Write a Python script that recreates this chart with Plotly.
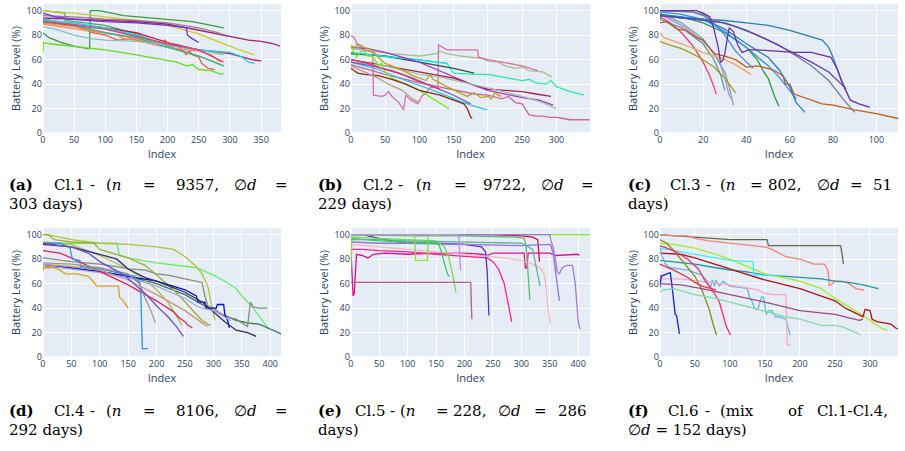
import plotly.graph_objects as go

# ---------------------------------------------------------------
# Battery-level traces per cluster: breakpoints (index, level %)
# ---------------------------------------------------------------
cl1_series = [
    [(0,82),(10,78),(30,74),(50,71),(72,69),(75,69),(76,100),(90,100),(130,96),(170,94),(200,93),(240,91),(260,89),(290,86)],
    [(0,65),(1,74),(10,73),(50,71),(100,68),(150,64),(200,59),(215,58),(230,55),(240,56),(250,52),(270,51),(285,48),(290,49)],
    [(0,100),(35,98),(36,92),(100,88),(150,81),(200,71),(250,63),(290,55)],
    [(0,100),(50,98),(100,95),(150,92),(200,88),(230,84),(250,81),(280,75),(310,69),(339,64)],
    [(0,96),(50,95),(100,93),(150,92),(200,90),(250,86),(280,82),(297,79)],
    [(0,95),(100,92),(200,89),(250,85),(290,80)],
    [(0,94),(50,93),(100,92),(150,91),(200,89),(250,84),(300,79),(330,76),(350,75),(360,74),(370,73),(380,71)],
    [(0,98),(20,95),(50,93),(100,91),(150,90),(200,88),(230,86),(232,80),(240,77),(250,74)],
    [(0,91),(50,89),(100,86),(150,82),(200,74),(250,68),(300,65),(320,62),(335,60),(350,59)],
    [(0,92),(50,90),(100,86),(150,80),(200,72),(250,68),(300,66),(320,62),(330,58),(340,57)],
    [(0,90),(50,88),(80,82),(100,80),(120,76),(140,77),(160,75),(190,73),(195,76),(200,74),(210,72),(220,70),(230,64),(235,67),(240,64),(250,62),(255,57),(260,55),(265,53),(275,52)],
    [(0,90),(50,87),(100,82),(150,77),(200,72),(250,68),(285,65)],
    [(0,89),(50,85),(100,81),(120,80),(130,77),(150,76),(180,72),(200,70),(230,68),(250,67),(270,64),(285,58)],
    [(0,93),(50,88),(100,82),(150,78),(200,70),(250,63),(290,55)],
    [(0,87),(20,85),(50,80),(80,77),(100,76),(150,75),(200,72),(250,68),(290,64)],
    [(0,93),(100,86),(200,72),(250,68),(290,66)],
    [(0,91),(100,85),(200,73),(250,68),(290,58)],
]
cl1_colors = ["#3a9e3a", "#5ee01c", "#55aa55", "#c8d020", "#a07a8a", "#c4b4d4", "#a0206a",
              "#6a35e0", "#d0105a", "#00d8e0", "#f05a3a", "#f09030", "#ff8060", "#3cb48c",
              "#88c0c0", "#40c0f0", "#e0406a"]

cl2_series = [
    [(0,69),(30,67),(60,65),(100,63),(125,65),(130,67),(140,65),(160,63),(190,61),(200,59),(215,58),(225,55),(240,53),(250,54),(260,51),(280,50),(293,46)],
    [(0,65),(30,64),(60,62),(100,60),(140,57),(143,55),(150,49),(180,48),(200,48),(230,45),(250,43),(260,44),(270,41),(285,40),(292,43),(300,38),(320,34),(340,31)],
    [(0,80),(5,78),(10,72),(20,68),(32,66),(33,31),(45,30),(50,31),(55,34),(60,30),(70,25),(77,19),(80,31),(88,27),(98,24),(103,30),(110,33),(115,37),(127,38),(128,72),(140,68),(185,68),(186,62),(200,60),(220,58),(250,55),(273,51)],
    [(0,56),(50,48),(100,41),(150,35),(180,32),(200,31),(220,28),(230,30),(240,25),(250,24),(255,20),(260,15),(270,14),(280,14),(290,13),(300,13),(310,12),(320,11),(348,11)],
    [(0,65),(50,63),(100,58),(150,53),(180,49)],
    [(0,66),(50,63),(100,60),(141,57)],
    [(0,70),(25,69),(50,66),(75,62),(100,58),(125,52),(150,46),(175,40),(200,35),(225,32),(250,29),(275,27),(295,23)],
    [(0,60),(50,55),(100,50),(130,47),(150,45),(175,40),(200,36),(225,35),(250,34),(270,32),(292,30)],
    [(0,58),(50,55),(100,48),(130,46),(160,42),(200,37),(250,30),(280,25),(300,20)],
    [(0,72),(5,70),(10,73),(20,70),(30,68),(40,62),(50,57),(60,55),(80,50),(90,47),(100,45),(110,43),(115,48),(120,44),(140,38),(160,33),(170,30),(180,33),(190,29),(200,30),(205,28),(210,33),(215,31),(220,30)],
    [(0,58),(40,52),(80,43),(120,35),(160,26),(180,22),(199,19)],
    [(0,72),(3,68),(8,62),(15,67),(20,67),(25,63),(30,63),(35,60),(40,55),(45,57),(50,50),(60,45),(80,40),(100,35),(120,28),(143,20)],
    [(0,53),(10,49),(20,48),(40,47),(60,44),(80,40),(100,35),(130,31),(150,27),(165,24),(170,20),(175,13),(177,12)],
    [(0,58),(30,55),(60,51),(90,45),(120,38),(150,31),(175,24)],
    [(0,55),(20,50),(40,45),(55,40),(75,35),(90,28),(100,25)],
    [(0,60),(25,57),(50,52),(75,48),(100,42),(130,36)],
]
cl2_colors = ["#a8c088", "#22f09a", "#d870a8", "#d4609a", "#2f4f4f", "#00e8f0", "#b030d0",
              "#a8204a", "#a0c0a8", "#b0a818", "#30c0e0", "#77ee11", "#8b2a10", "#6a5acd",
              "#b8a080", "#f0305a"]

cl3_series = [
    [(0,95),(5,90),(10,82),(15,72),(20,58),(23,47),(25,38),(26,32)],
    [(0,97),(10,88),(20,75),(25,66),(28,56),(30,45),(32,31),(33,28)],
    [(0,98),(10,90),(20,77),(25,65),(30,50),(32,38),(34,23)],
    [(0,93),(10,86),(20,73),(25,60),(28,48),(30,35)],
    [(0,75),(3,73),(10,69),(15,65),(20,60),(25,54),(30,45),(33,38),(35,33)],
    [(0,82),(2,78),(10,73),(20,66),(30,60),(35,56),(42,48)],
    [(0,93),(1,97),(10,95),(20,90),(30,82),(35,76),(40,70),(45,60),(48,50),(50,45),(53,30),(55,22)],
    [(0,99),(10,97),(20,93),(30,83),(40,70),(50,55),(55,46),(60,35),(63,28)],
    [(0,96),(10,95),(20,93),(30,85),(40,73),(50,62),(55,52),(60,38),(63,25),(67,17)],
    [(0,100),(15,99),(20,96),(25,90),(30,80),(35,67),(40,58),(43,53)],
    [(0,90),(3,91),(8,85),(12,84),(17,78),(20,76),(25,65),(30,63),(35,60),(40,54),(45,55),(52,52),(56,48),(57,46),(58,40),(60,40),(62,32),(70,27),(75,24),(80,23),(90,19),(100,16),(110,12)],
    [(0,97),(10,94),(20,93),(30,92),(40,90),(50,88),(60,84),(70,79),(75,76),(78,70),(80,62),(82,52),(84,42),(86,36)],
    [(0,100),(15,99),(20,97),(25,92),(35,87),(45,80),(55,72),(62,64),(70,55),(78,43),(85,27),(90,17)],
    [(0,100),(17,100),(20,98),(23,95),(25,85),(27,70),(28,58),(29,59),(30,65),(32,86),(34,83),(36,72),(38,66),(41,68),(45,68),(55,67),(62,66),(70,66),(75,64),(79,62),(82,52),(85,38),(88,27),(92,24),(97,21)],
    [(0,96),(10,94),(20,92),(30,90),(40,84),(50,76),(60,67),(70,58),(78,50),(83,42),(85,38)],
]
cl3_colors = ["#f04070", "#c080f0", "#7aa890", "#5a9aa8", "#a0a010", "#f4a060", "#20a040",
              "#3090f0", "#2080c0", "#5080f0", "#c06018", "#2a80b0", "#708090", "#7030a0",
              "#6a3ab0"]

cl4_series = [
    [(0,93),(130,93),(135,83),(150,81),(200,77),(250,74),(270,73),(300,67),(320,62),(340,56),(350,50),(370,40),(385,30),(397,23)],
    [(0,75),(50,73),(100,70),(150,66),(200,60),(250,51),(280,43),(300,38),(320,34),(340,30),(360,28),(380,27),(400,23),(419,19)],
    [(0,81),(50,78),(100,76),(130,74),(150,72),(180,71),(200,68),(220,67),(250,64),(270,62),(280,61),(285,50),(290,42),(300,40),(320,33),(340,31),(355,26),(360,25),(365,45),(370,41),(380,40),(395,40)],
    [(0,100),(20,99),(50,96),(100,93),(150,92),(200,90),(230,88),(250,82),(270,74),(280,68),(290,58),(295,45),(300,35),(303,30)],
    [(0,100),(10,100),(20,96),(50,94),(90,93),(100,88),(150,81),(180,75),(200,67),(230,55),(250,45),(270,35),(280,30),(290,27),(295,26)],
    [(0,94),(50,92),(100,83),(150,72),(180,63),(200,55),(220,45),(240,30),(245,26)],
    [(0,75),(100,70),(150,66),(200,62),(250,55),(270,50),(273,45),(285,45),(287,40),(305,40),(307,43),(318,43),(320,35),(325,30),(328,24)],
    [(0,92),(50,90),(100,84),(130,80),(150,72),(180,65),(200,62),(250,53),(280,45),(300,37),(320,29),(340,22),(350,21),(360,20),(375,17)],
    [(0,75),(50,72),(100,69),(150,65),(200,58),(250,48),(270,42),(280,40),(300,38),(330,30)],
    [(0,87),(30,85),(50,81),(100,70),(150,59),(200,46),(230,37),(240,32),(250,29),(255,26),(263,24)],
    [(0,76),(50,74),(100,71),(150,63),(200,51),(250,38),(280,28),(290,25)],
    [(0,70),(1,73),(20,73),(30,71),(40,68),(60,68),(70,67),(80,66),(88,62),(95,58),(133,58),(135,49),(140,47),(150,40)],
    [(0,93),(30,93),(40,91),(48,89),(50,84),(52,80),(65,79),(66,74),(100,72),(140,68),(150,67),(162,66),(163,63),(170,62),(172,57),(175,7),(185,7)],
    [(0,77),(50,76),(100,73),(150,68),(170,60),(180,48),(190,38),(198,28)],
    [(0,93),(50,90),(80,85),(100,78),(140,68),(160,60),(180,52),(200,42),(220,33),(235,25),(247,17)],
]
cl4_colors = ["#66ee66", "#2a7a4a", "#8a8a78", "#b8c038", "#a0b030", "#aac040", "#0010d0",
              "#3d2868", "#b0a0f0", "#e8205a", "#c89a7a", "#e0a010", "#3090f0", "#a09890",
              "#7050c0"]

cl5_series = [
    [(0,100),(421,100)],
    [(0,100),(150,100),(250,100),(300,99),(320,98),(329,96),(331,80),(332,78)],
    [(0,88),(2,70),(4,50),(6,52),(10,84),(20,83),(30,81),(40,84),(60,85),(100,84),(150,85),(200,85),(230,84),(240,83),(250,85),(305,85),(307,73),(310,73),(312,85),(350,85),(360,83),(400,84),(402,83)],
    [(0,88),(20,88),(50,87),(100,86),(150,84),(200,82),(240,81),(250,78),(260,72),(270,60),(275,48),(280,35),(283,29)],
    [(0,100),(20,100),(40,98),(60,96),(100,93),(150,93),(200,92),(230,90),(237,86),(240,70),(243,34)],
    [(0,94),(50,93),(100,93),(200,92),(250,92),(300,91),(350,92),(352,91),(356,85),(360,70),(363,58),(367,46)],
    [(0,100),(100,100),(200,100),(350,100),(352,95),(356,90),(360,80),(363,70),(367,68),(372,73),(380,75),(390,75),(395,60),(400,30),(403,23)],
    [(0,92),(50,90),(100,88),(150,86),(200,84),(250,82),(300,79),(320,76),(335,72),(340,68),(343,60),(347,40),(351,27)],
    [(0,100),(100,99),(200,99),(290,98),(305,97),(308,92),(311,75),(313,60),(315,47)],
    [(0,98),(50,97),(100,96),(150,95),(165,90),(172,82),(178,70),(182,60),(185,53)],
    [(0,97),(50,95),(100,94),(150,93),(155,92),(160,85),(165,76),(170,68),(173,66)],
    [(0,72),(2,100),(100,100),(110,99),(113,97),(114,79),(135,79),(136,100),(160,99)],
    [(0,61),(100,61),(211,61),(212,45),(213,31)],
    [(0,100),(100,100),(190,100),(191,90),(193,71)],
    [(0,96),(50,96),(100,95),(200,94),(300,93),(320,88),(328,70),(333,58)],
]
cl5_colors = ["#88ee22", "#c01050", "#e0108a", "#ff2090", "#5030c8", "#9a70e0", "#a078e0",
              "#f4b8c0", "#60bb70", "#70dd50", "#33cc55", "#80e040", "#b06088", "#c090e0",
              "#60b890"]

cl6_series = [
    [(0,100),(50,98),(100,96),(153,96),(155,91),(200,91),(258,91),(260,85),(262,76)],
    [(0,100),(20,99),(40,99),(50,97),(70,95),(100,93),(120,92),(150,90),(160,88),(170,85),(180,82),(200,80),(210,78),(220,76),(235,76),(240,71),(242,58),(250,62),(260,62),(270,60),(280,56),(290,55),(292,54)],
    [(0,79),(20,78),(50,76),(80,73),(100,71),(120,70),(150,67),(180,66),(200,65),(230,64),(250,62),(270,61),(290,59),(312,56)],
    [(0,93),(20,92),(50,89),(80,84),(100,80),(130,73),(150,68),(200,62),(230,56),(250,48),(270,41),(290,34),(310,26),(318,23),(325,22)],
    [(0,85),(30,84),(50,81),(100,72),(150,63),(200,56),(230,50),(250,46),(265,40),(280,36),(290,33),(293,39),(300,38),(303,31),(310,29),(320,28),(330,27),(336,24),(340,23)],
    [(0,89),(20,87),(50,84),(100,79),(133,78),(134,67),(150,67),(168,67)],
    [(0,90),(3,83),(8,76),(15,73),(40,71),(60,67),(68,62),(72,56),(75,63),(78,58),(80,63),(85,58),(90,62),(100,58),(115,57),(125,56),(128,49),(132,45),(135,40),(140,39),(145,49),(148,49),(152,35),(156,38),(160,38),(165,33),(170,33),(180,31),(185,20),(186,18)],
    [(0,68),(2,64),(30,64),(60,62),(100,59),(120,57),(140,55),(150,52),(160,51),(180,51),(182,10),(187,10)],
    [(0,96),(10,93),(20,87),(30,80),(40,73),(50,66),(60,55),(70,40),(77,25),(81,18)],
    [(0,91),(20,87),(40,80),(55,72),(65,62),(75,55),(85,45),(90,35),(95,25),(101,18)],
    [(0,57),(2,66),(10,68),(15,69),(17,60),(20,46),(22,35),(24,34),(26,25),(28,19)],
    [(0,76),(20,71),(40,65),(50,61),(60,58),(80,55)],
    [(0,60),(30,59),(60,56),(100,51),(150,45),(200,38),(220,37),(250,35),(270,32),(285,30),(290,31)],
    [(0,53),(5,55),(20,56),(50,51),(80,48),(100,45),(150,38),(180,33),(200,31),(230,26),(250,26),(260,25),(280,20),(287,18)],
]
cl6_colors = ["#6b6848", "#fa8070", "#1a98a8", "#a0ee20", "#b01018", "#40f0f8", "#60b8e0",
              "#f8a8c8", "#8b8a10", "#ff2870", "#2020d0", "#e83040", "#a04878", "#80e0a0"]

panels = [
    (cl1_series, cl1_colors, 382, 50),
    (cl2_series, cl2_colors, 349, 50),
    (cl3_series, cl3_colors, 110, 20),
    (cl4_series, cl4_colors, 419, 50),
    (cl5_series, cl5_colors, 421, 50),
    (cl6_series, cl6_colors, 340, 50),
]

W, H = 905, 451
col_px = [(40, 279), (349, 589), (659, 898)]
row_px = [(4, 135), (231, 362)]

fig = go.Figure()
axis_font = dict(family="Open Sans, sans-serif", size=9, color="#2a3f5f")
title_font = dict(family="Open Sans, sans-serif", size=11, color="#2a3f5f")

for i, (series, colors, xmax, dtick) in enumerate(panels):
    k = i + 1
    r, c = divmod(i, 3)
    xs = "x" if k == 1 else f"x{k}"
    ys = "y" if k == 1 else f"y{k}"
    for pts, col in zip(series, colors):
        fig.add_trace(go.Scatter(
            x=[p[0] for p in pts], y=[p[1] for p in pts], mode="lines",
            line=dict(color=col, width=1.3), xaxis=xs, yaxis=ys,
            showlegend=False, hoverinfo="skip"))
    x0, x1 = col_px[c]
    y0, y1 = row_px[r]
    xkey = "xaxis" if k == 1 else f"xaxis{k}"
    ykey = "yaxis" if k == 1 else f"yaxis{k}"
    fig.layout[xkey] = dict(
        domain=[x0 / W, x1 / W], anchor=ys, range=[0, xmax], dtick=dtick,
        title=dict(text="Index", font=title_font, standoff=4),
        tickfont=axis_font, gridcolor="white", zerolinecolor="white",
        showline=False, ticks="")
    fig.layout[ykey] = dict(
        domain=[1 - y1 / H, 1 - y0 / H], anchor=xs, range=[0, 105.5], dtick=20,
        title=dict(text="Battery Level (%)", font=title_font, standoff=3),
        tickfont=axis_font, gridcolor="white", zerolinecolor="white",
        showline=False, ticks="")

# Sub-figure captions (first lines justified across the column)
cap_font = dict(family="DejaVu Serif, serif", size=15, color="black")
caption_lines = [
    (188, [(5, "<b>(a)</b>"), (50, "Cl.1"), (86, "-"), (102, "(<i>n</i>"), (139, "="),
           (173, "9357,"), (231, "∅<i>d</i>"), (272, "=")]),
    (207, [(5, "303 days)")]),
    (188, [(315, "<b>(b)</b>"), (360, "Cl.2"), (395, "-"), (413, "(<i>n</i>"), (451, "="),
           (481, "9722,"), (539, "∅<i>d</i>"), (579, "=")]),
    (207, [(315, "229 days)")]),
    (188, [(626, "<b>(c)</b>"), (668, "Cl.3"), (704, "-"), (718, "(<i>n</i>"), (748, "="),
           (767, "802,"), (816, "∅<i>d</i>"), (849, "="), (872, "51")]),
    (207, [(626, "days)")]),
    (417, [(5, "<b>(d)</b>"), (50, "Cl.4"), (86, "-"), (102, "(<i>n</i>"), (139, "="),
           (173, "8106,"), (231, "∅<i>d</i>"), (272, "=")]),
    (436, [(5, "292 days)")]),
    (417, [(315, "<b>(e)</b>"), (352, "Cl.5"), (387, "-"), (397, "(<i>n</i>"), (433, "="),
           (450, "228,"), (496, "∅<i>d</i>"), (532, "="), (556, "286")]),
    (436, [(315, "days)")]),
    (417, [(626, "<b>(f)</b>"), (666, "Cl.6"), (703, "-"), (718, "(mix"), (787, "of"),
           (816, "Cl.1-Cl.4,")]),
    (436, [(626, "∅<i>d</i> = 152 days)")]),
]
for ypx, tokens in caption_lines:
    for xpx, txt in tokens:
        fig.add_annotation(
            x=xpx / W, y=1 - ypx / H, xref="paper", yref="paper",
            xanchor="left", yanchor="middle", text=txt, showarrow=False,
            font=cap_font, borderpad=0)

fig.update_layout(
    width=W, height=H, autosize=False,
    margin=dict(l=0, r=0, t=0, b=0),
    paper_bgcolor="white", plot_bgcolor="#E5ECF6",
    template="plotly",
)

fig.write_html("out.html")
